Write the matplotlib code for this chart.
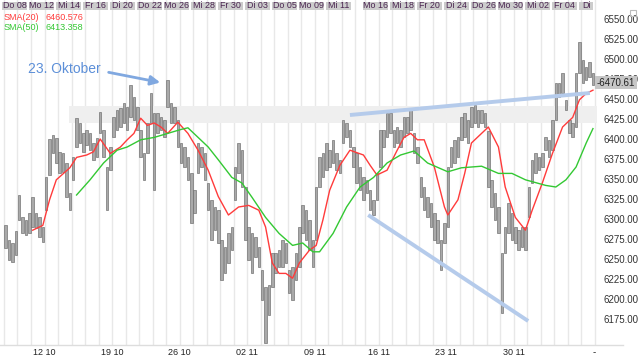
import numpy as np
import matplotlib
matplotlib.use('Agg')
import matplotlib.pyplot as plt
from matplotlib.patches import Rectangle
from matplotlib.lines import Line2D

plt.rcParams['font.family'] = ['Liberation Sans', 'DejaVu Sans']

# four bars make one trading day column, day 26 is a short one
bars_per_day = [4] * 26 + [3] + [4] * 17

highs = [6292, 6274, 6270, 6285, 6330, 6302, 6299, 6307, 6327, 6307, 6302, 6290,
         6352, 6400, 6405, 6401, 6384, 6382, 6370, 6332, 6377, 6426, 6420, 6407,
         6411, 6407, 6395, 6401, 6434, 6411, 6365, 6390, 6427, 6436, 6439, 6445,
         6440, 6467, 6452, 6440, 6411, 6382, 6420, 6457, 6432, 6432, 6427, 6424,
         6474, 6445, 6440, 6424, 6395, 6390, 6377, 6357, 6336, 6395, 6390, 6382,
         6345, 6324, 6315, 6311, 6274, 6265, 6282, 6290, 6365, 6395, 6386, 6340,
         6290, 6282, 6277, 6265, 6236, 6215, 6217, 6257, 6257, 6261, 6274, 6270,
         6236, 6240, 6257, 6290, 6317, 6311, 6299, 6274, 6340, 6377, 6382, 6395,
         6386, 6399, 6382, 6374, 6424, 6420, 6411, 6390,
         6382, 6365, 6352,
         6349, 6336, 6324, 6357, 6411, 6411, 6432, 6432, 6411, 6415, 6411, 6427,
         6427, 6436, 6407, 6390, 6352, 6340, 6327, 6320, 6307, 6299, 6274, 6295,
         6365, 6390, 6399, 6402, 6427, 6432, 6424, 6440, 6442, 6436, 6436, 6432,
         6410, 6349, 6332, 6315, 6257, 6290, 6320, 6307, 6290, 6286, 6290, 6290,
         6340, 6374, 6382, 6377, 6382, 6402, 6399, 6424, 6470, 6470, 6482, 6449,
         6424, 6420, 6482, 6521,
         6499, 6490, 6496, 6482]
lows = [6264, 6249, 6246, 6255, 6299, 6282, 6280, 6282, 6290, 6289, 6277, 6271,
        6311, 6355, 6382, 6370, 6357, 6359, 6327, 6311, 6349, 6390, 6395, 6384,
        6392, 6386, 6374, 6377, 6407, 6377, 6311, 6361, 6402, 6411, 6415, 6420,
        6411, 6427, 6424, 6411, 6377, 6349, 6382, 6420, 6336, 6407, 6411, 6402,
        6440, 6420, 6420, 6390, 6370, 6365, 6349, 6295, 6307, 6357, 6365, 6349,
        6311, 6274, 6286, 6270, 6224, 6232, 6245, 6261, 6324, 6357, 6340, 6274,
        6249, 6232, 6252, 6240, 6199, 6145, 6180, 6215, 6232, 6240, 6240, 6245,
        6207, 6199, 6224, 6240, 6282, 6274, 6261, 6240, 6274, 6340, 6352, 6361,
        6365, 6370, 6361, 6357, 6395, 6402, 6390, 6365,
        6345, 6336, 6324,
        6332, 6311, 6305, 6324, 6365, 6390, 6402, 6407, 6390, 6395, 6390, 6402,
        6407, 6411, 6382, 6370, 6327, 6311, 6302, 6290, 6274, 6270, 6236, 6270,
        6290, 6365, 6370, 6377, 6399, 6402, 6395, 6415, 6420, 6415, 6420, 6415,
        6340, 6315, 6299, 6282, 6182, 6257, 6282, 6274, 6270, 6261, 6265, 6261,
        6302, 6345, 6357, 6361, 6365, 6386, 6377, 6386, 6424, 6452, 6457, 6436,
        6407, 6402, 6415, 6482,
        6470, 6474, 6477, 6468]
last_price = 6470.61

sma20_x = [8, 11, 13, 15, 19, 21, 24, 26, 28, 31, 34, 36, 38, 40, 42, 44, 46, 48, 51, 54,
           57, 60, 63, 66, 69, 72, 75, 77, 79, 81, 83, 85, 87, 90, 92, 94, 96, 99, 102, 106,
           108, 110, 113, 116, 118, 120, 122, 124, 127, 130, 131, 134, 136, 138, 143, 146,
           148, 151, 154, 156, 159, 162, 165, 168, 170, 172, 174]
sma20_y = [6286, 6292, 6324, 6349, 6364, 6377, 6380, 6384, 6400, 6382, 6390, 6399, 6407,
           6426, 6417, 6420, 6415, 6407, 6421, 6407, 6386, 6361, 6328, 6305, 6315, 6317,
           6311, 6290, 6245, 6232, 6232, 6226, 6245, 6261, 6267, 6299, 6336, 6367, 6386,
           6380, 6367, 6355, 6361, 6386, 6402, 6407, 6399, 6399, 6365, 6315, 6305, 6324,
           6357, 6395, 6415, 6390, 6340, 6302, 6286, 6311, 6345, 6382, 6415, 6427, 6449,
           6457, 6461]
sma50_x = [21, 25, 29, 33, 36, 40, 44, 48, 52, 54, 57, 60, 63, 67, 70, 73, 77, 81, 85, 88,
           91, 93, 97, 101, 105, 109, 113, 117, 121, 125, 131, 135, 141, 146, 150, 154, 160,
           163, 166, 169, 172, 174]
sma50_y = [6330, 6349, 6370, 6386, 6390, 6399, 6402, 6407, 6412, 6414, 6402, 6390, 6374,
           6352, 6345, 6327, 6302, 6282, 6267, 6270, 6259, 6259, 6282, 6315, 6340, 6352,
           6370, 6380, 6385, 6370, 6359, 6364, 6366, 6357, 6357, 6349, 6342, 6340, 6349,
           6365, 6395, 6413]
sma20_last = '6460.576'
sma50_last = '6413.358'

header_labels = ['Do 08', 'Mo 12', 'Mi 14', 'Fr 16', 'Di 20', 'Do 22', 'Mo 26', 'Mi 28',
                 'Fr 30', 'Di 03', 'Do 05', 'Mo 09', 'Mi 11', 'Mo 16', 'Mi 18', 'Fr 20',
                 'Di 24', 'Do 26', 'Mo 30', 'Mi 02', 'Fr 04', 'Di']
header_days = [0, 2, 4, 6, 8, 10, 12, 14, 16, 18, 20, 22, 24, 27, 29, 31, 33, 35, 37, 39, 41, 43]
date_labels = ['12 10', '19 10', '26 10', '02 11', '09 11', '16 11', '23 11', '30 11']
date_days = [3, 8, 13, 18, 23, 28, 33, 38]

# drawn-in annotations (resistance zone, trend lines)
zone = [6420, 6441]
zone_start = 19.3
upper_x, upper_y = [102.5, 173.6], [6430, 6457.5]
lower_x, lower_y = [107.9, 155.3], [6305, 6172.5]

day_start = np.concatenate([[0], np.cumsum(bars_per_day)])
xs = np.arange(len(highs)) + 0.5
highs = np.array(highs)
lows = np.array(lows)

fig = plt.figure(figsize=(6.4, 3.56), dpi=100)
ax = fig.add_axes([0, 11 / 356, 597 / 640, 345 / 356])
ax.set_xlim(-1.185, 175.7)
ax.set_ylim(6142.5, 6573.75)
for s in ax.spines.values():
    s.set_visible(False)

for d in day_start:
    ax.axvline(d, color='#e8e8e8', lw=1, zorder=0.3)

ax.add_patch(Rectangle((zone_start, zone[0]), 180 - zone_start, zone[1] - zone[0],
                       color='#efefef', zorder=0.5, lw=0))

ax.bar(xs, highs - lows, bottom=lows, width=0.72, color='#a9a9a9',
       edgecolor='#6a6a6a', linewidth=0.45, zorder=2)

ax.plot(np.array(sma20_x) + 0.5, sma20_y, color='#ff3b3b', lw=1, zorder=3)
ax.plot(np.array(sma50_x) + 0.5, sma50_y, color='#33c833', lw=1, zorder=3)

ax.plot(upper_x, upper_y, color='#b5cbeb', lw=2.8, solid_capstyle='butt', zorder=4)
ax.plot(lower_x, lower_y, color='#b5cbeb', lw=2.8, solid_capstyle='butt', zorder=4)

ax.annotate('', xy=(47.1, 6470), xytext=(30.2, 6484),
            arrowprops=dict(arrowstyle='-|>', color='#80a8e0', lw=2, mutation_scale=14))
ax.text(7.1, 6487.5, '23. Oktober', fontsize=10, color='#5c8fd8', va='center')

# header boxes with weekday labels
trans = ax.get_xaxis_transform()
nbars = len(highs)
for lab, d in zip(header_labels, header_days):
    x0 = day_start[d] - 0.5
    x1 = min(day_start[min(d + 2, len(day_start) - 1)], nbars) - 1.1
    if d == header_days[-1]:
        x1 = nbars - 0.6
    ax.add_patch(Rectangle((x0, 1 - 10 / 345), x1 - x0, 8 / 345, transform=trans,
                           color='#cccccc', lw=0, zorder=5, clip_on=False))
    ax.text((x0 + x1) / 2, 1 - 6 / 345, lab, transform=trans, fontsize=6.4,
            color='#4a2450', ha='center', va='center', zorder=6)

fig.text(4 / 640, 1 - 17 / 356, 'SMA(20)', color='#ff3b3b', fontsize=6.5, va='center')
fig.text(45 / 640, 1 - 17 / 356, sma20_last, color='#ff3b3b', fontsize=6.5, va='center')
fig.text(4 / 640, 1 - 28 / 356, 'SMA(50)', color='#33c833', fontsize=6.5, va='center')
fig.text(45 / 640, 1 - 28 / 356, sma50_last, color='#33c833', fontsize=6.5, va='center')

ax.yaxis.tick_right()
yt = np.arange(6175, 6551, 25)
ax.set_yticks(yt)
ax.set_yticklabels(['%.2f' % v for v in yt])
ax.tick_params(axis='y', length=0, pad=5, labelsize=7, labelcolor='#333333')

ax.set_xticks([day_start[d] for d in date_days])
ax.set_xticklabels(date_labels)
ax.tick_params(axis='x', length=0, pad=2, labelsize=6.5, labelcolor='#222222')

ax.text(1.0, last_price, '-%.2f' % last_price, transform=ax.get_yaxis_transform(),
        fontsize=7, color='#222222', va='center', ha='left', zorder=10,
        bbox=dict(boxstyle='square,pad=0.2', fc='#c6c6c6', ec='none'))

fig.add_artist(Line2D([0, 623 / 640], [11 / 356, 11 / 356], color='#dddddd', lw=1))
fig.text(593 / 640, 1 - 352 / 356, '-', fontsize=7, color='#222222', va='center')
fig.add_artist(Rectangle((630 / 640, 1 - 16 / 356), 6 / 640, 6 / 356, fill=False,
                         ec='#bbbbbb', lw=0.8))

fig.savefig('out.png', dpi=100, facecolor='white')
